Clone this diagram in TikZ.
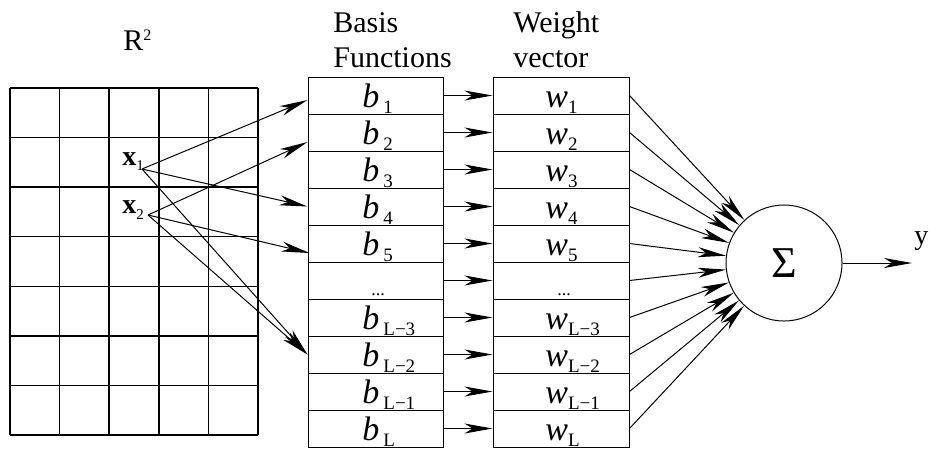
\documentclass[tikz,border=0pt]{standalone}
\usepackage{fontspec}
\setmainfont{Liberation Serif}
\usetikzlibrary{arrows.meta}
\tikzset{
  gridline/.style={line width=0.75pt},
  cell/.style={draw, line width=0.5pt, rectangle, minimum width=67.5pt, minimum height=18.5pt, inner sep=0pt},
  wcell/.style={cell, minimum width=68pt},
  arr/.style={line width=0.5pt, -{Stealth[length=14pt,width=5pt,inset=4pt]}},
  lbl/.style={anchor=base west, inner sep=0pt, font=\fontsize{17}{20}\selectfont},
  dotlbl/.style={anchor=base, inner sep=0pt, font=\fontsize{9}{10}\selectfont},
  head/.style={anchor=base west, inner sep=0pt, font=\fontsize{15}{17}\selectfont},
  xlbl/.style={anchor=base west, inner sep=0pt, font=\fontsize{14}{16}\selectfont},
  sumnode/.style={circle, draw, line width=0.5pt, minimum size=58pt, inner sep=0pt, font=\fontsize{22}{24}\selectfont},
}
\newcommand{\mysub}[1]{\raisebox{-3pt}{\fontsize{9.5}{10}\selectfont #1}}
\begin{document}
\begin{tikzpicture}[x=0.5pt,y=-0.5pt]
\useasboundingbox (0,0) rectangle (930,452);
% grid R^2
\foreach \i in {0,...,5} \draw[gridline] ({10+49.6*\i},88) -- ({10+49.6*\i},435);
\foreach \j in {0,...,7} \draw[gridline] (10,{88+49.571*\j}) -- (258,{88+49.571*\j});
% headings
\node[head] (R) at (123,50) {R\raisebox{5pt}{\fontsize{8}{9}\selectfont 2}};
\node[head] (basis) at (333,32) {Basis};
\node[head] (func) at (333,67) {Functions};
\node[head] (weight) at (513,32) {Weight};
\node[head] (vec) at (513,67) {vector};
% input points
\node[xlbl] (x1l) at (122,165) {\textbf{x}\raisebox{-2.5pt}{\fontsize{7.5}{8}\selectfont 1}};
\node[xlbl] (x2l) at (122,213) {\textbf{x}\raisebox{-3pt}{\fontsize{7.5}{8}\selectfont 2}};
\coordinate (x1) at (142,169);
\coordinate (x2) at (148,215);
% sum node
\node[sumnode] (sum) at (784,263) {Σ};
\coordinate (out) at (912,263);
\draw[arr] (sum) -- (out);
\node[anchor=base west, inner sep=0pt, font=\fontsize{14}{16}\selectfont] (ylab) at (914,244) {y};
% boxes
\foreach \k in {1,...,10} {
  \node[cell] (b\k) at (375.5,{95.5+37*(\k-1)}) {};
  \node[wcell] (w\k) at (561,{95.5+37*(\k-1)}) {};
  \draw[arr] (b\k.east) -- (w\k.west);
  \draw[arr] (w\k.east) -- (sum);
}
\foreach \k/\s in {1/1,2/2,3/3,4/4,5/5,7/L−3,8/L−2,9/L−1,10/L} {
  \node[lbl] (bl\k) at (362,{77+37*\k-6.5}) {\textit{b}\hspace{2pt}\mysub{\s}};
  \node[lbl] (wl\k) at (545,{77+37*\k-6.5}) {\textit{w}\mysub{\s}};
}
\node[dotlbl] (bd) at (378,295) {...};
\node[dotlbl] (wd) at (564,295) {...};
% input arrows
\draw[arr] (x1) -- ([yshift=-2.25pt]b1.west);
\draw[arr] (x2) -- ([yshift=-4.75pt]b2.west);
\draw[arr] (x1) -- (b4.west);
\draw[arr] (x2) -- ([xshift=1pt,yshift=-4.75pt]b5.west);
\draw[arr] (x1) -- (b8.west);
\draw[arr] (x2) -- (b8.west);
\end{tikzpicture}
\end{document}
